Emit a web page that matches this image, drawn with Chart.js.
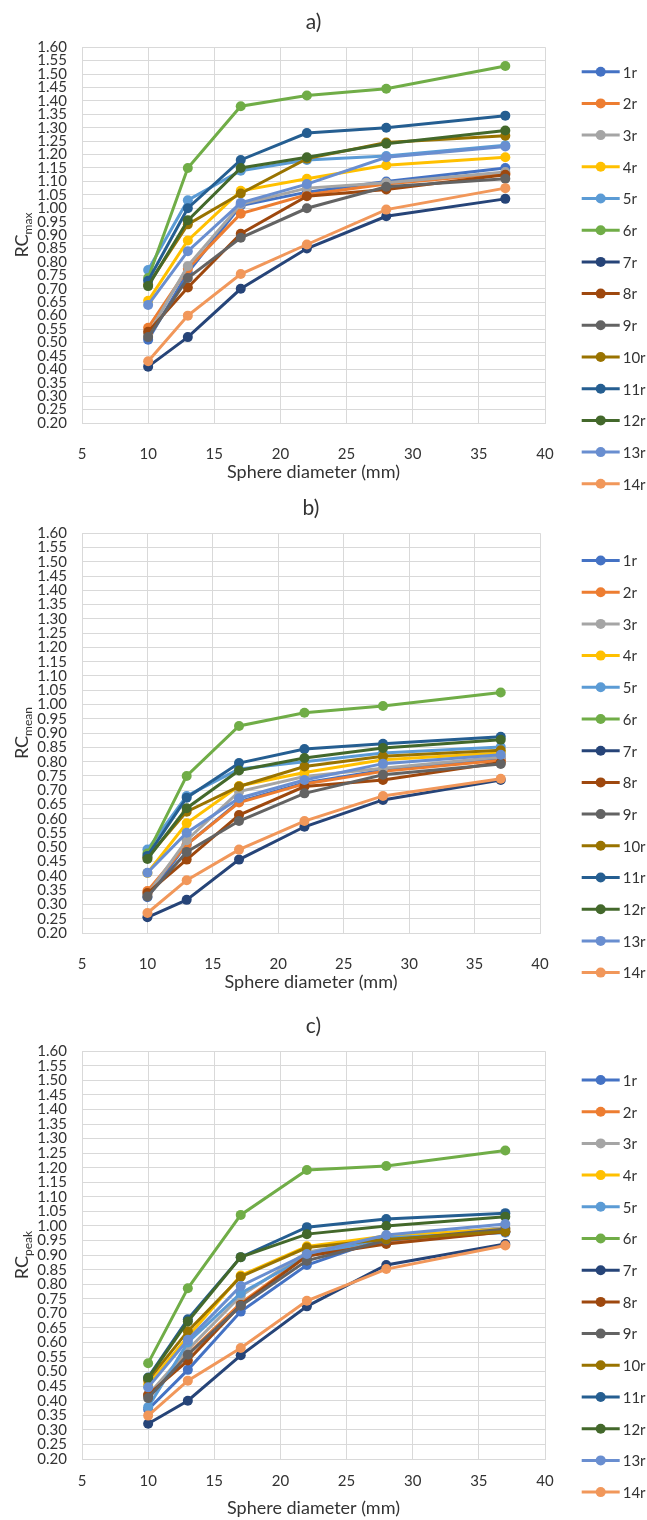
<!DOCTYPE html>
<html>
<head>
<meta charset="utf-8">
<script src="https://cdn.jsdelivr.net/npm/chart.js@4.4.1/dist/chart.umd.min.js"></script>
<style>
  html, body { margin: 0; padding: 0; background: #fff; }
  #wrap { position: relative; width: 647px; height: 1520px; }
  canvas { position: absolute; left: 0; }
</style>
</head>
<body>
<div id="wrap">
  <canvas id="rcMax" width="647" height="500" style="top:0"></canvas>
  <canvas id="rcMean" width="647" height="515" style="top:485px"></canvas>
  <canvas id="rcPeak" width="647" height="520" style="top:1000px"></canvas>
</div>
<script>
// ── DATA ──
const DIAMETERS = [10, 13, 17, 22, 28, 37];
const SERIES = ['1r', '2r', '3r', '4r', '5r', '6r', '7r', '8r', '9r', '10r', '11r', '12r', '13r', '14r'];
const Y_TICK_MIN = 0.20, Y_TICK_MAX = 1.60, Y_TICK_STEP = 0.05;
const X_TICK_MIN = 5, X_TICK_MAX = 40, X_TICK_STEP = 5;

// a) RCmax, one row per series (1r..14r), one value per sphere diameter
const RC_MAX = [
  [0.51, 0.76, 1.01, 1.06, 1.10, 1.15],
  [0.555, 0.775, 0.98, 1.05, 1.09, 1.13],
  [0.53, 0.785, 1.015, 1.075, 1.095, 1.135],
  [0.655, 0.88, 1.065, 1.11, 1.16, 1.19],
  [0.77, 1.03, 1.14, 1.18, 1.195, 1.235],
  [0.74, 1.15, 1.38, 1.42, 1.445, 1.53],
  [0.41, 0.52, 0.70, 0.85, 0.97, 1.035],
  [0.54, 0.705, 0.905, 1.045, 1.07, 1.125],
  [0.52, 0.74, 0.89, 1.00, 1.08, 1.11],
  [0.715, 0.94, 1.055, 1.185, 1.245, 1.27],
  [0.73, 1.00, 1.18, 1.28, 1.30, 1.345],
  [0.71, 0.955, 1.15, 1.19, 1.24, 1.29],
  [0.64, 0.84, 1.02, 1.09, 1.19, 1.23],
  [0.43, 0.60, 0.755, 0.865, 0.995, 1.075]
];

// b) RCmean
const RC_MEAN = [
  [0.325, 0.51, 0.66, 0.725, 0.77, 0.81],
  [0.347, 0.51, 0.657, 0.722, 0.766, 0.805],
  [0.335, 0.525, 0.695, 0.748, 0.777, 0.816],
  [0.41, 0.584, 0.715, 0.762, 0.807, 0.83],
  [0.492, 0.68, 0.774, 0.80, 0.83, 0.851],
  [0.478, 0.75, 0.925, 0.971, 0.995, 1.042],
  [0.255, 0.316, 0.457, 0.572, 0.666, 0.736],
  [0.34, 0.457, 0.613, 0.713, 0.736, 0.797],
  [0.328, 0.484, 0.592, 0.689, 0.754, 0.792],
  [0.464, 0.625, 0.713, 0.783, 0.819, 0.84],
  [0.47, 0.674, 0.795, 0.844, 0.863, 0.887],
  [0.459, 0.637, 0.769, 0.813, 0.848, 0.877],
  [0.411, 0.551, 0.672, 0.736, 0.793, 0.824],
  [0.27, 0.385, 0.492, 0.592, 0.68, 0.74]
];

// c) RCpeak
const RC_PEAK = [
  [0.37, 0.506, 0.706, 0.866, 0.96, 0.98],
  [0.42, 0.56, 0.735, 0.90, 0.943, 0.98],
  [0.42, 0.575, 0.76, 0.91, 0.96, 0.995],
  [0.455, 0.62, 0.83, 0.93, 0.966, 0.99],
  [0.378, 0.60, 0.769, 0.895, 0.96, 0.977],
  [0.529, 0.786, 1.038, 1.192, 1.206, 1.259],
  [0.321, 0.40, 0.556, 0.724, 0.866, 0.938],
  [0.42, 0.538, 0.729, 0.897, 0.938, 0.98],
  [0.409, 0.558, 0.726, 0.881, 0.95, 0.99],
  [0.47, 0.639, 0.826, 0.926, 0.954, 0.981],
  [0.48, 0.68, 0.893, 0.996, 1.024, 1.044],
  [0.478, 0.672, 0.893, 0.972, 1.00, 1.032],
  [0.446, 0.609, 0.794, 0.904, 0.969, 1.007],
  [0.349, 0.469, 0.581, 0.743, 0.852, 0.933]
];

// ── STYLE ──
const COLORS = ['#4472C4', '#ED7D31', '#A5A5A5', '#FFC000', '#5B9BD5', '#70AD47', '#264478',
                '#9E480E', '#636363', '#997300', '#255E91', '#43682B', '#698ED0', '#F1975A'];
const TEXT = '#333333';
const GRID = '#d9d9d9';
const FONT = 'Lato';

// legend drawn at the right, line + marker like the spreadsheet legend
const sideLegend = {
  id: 'sideLegend',
  afterDraw(chart, args, opts) {
    const ctx = chart.ctx;
    ctx.save();
    chart.data.datasets.forEach((ds, i) => {
      const y = opts.top + i * opts.step;
      ctx.strokeStyle = ds.borderColor;
      ctx.lineWidth = 3;
      ctx.beginPath();
      ctx.moveTo(opts.left, y);
      ctx.lineTo(opts.left + 38, y);
      ctx.stroke();
      ctx.fillStyle = ds.borderColor;
      ctx.beginPath();
      ctx.arc(opts.left + 19, y, 5, 0, Math.PI * 2);
      ctx.fill();
      ctx.fillStyle = TEXT;
      ctx.font = `15px ${FONT}`;
      ctx.textBaseline = 'middle';
      ctx.textAlign = 'left';
      ctx.fillText(ds.label, opts.left + 41, y + 1);
    });
    ctx.restore();
  }
};

// y axis title with subscript (RCmax / RCmean / RCpeak)
const subTitle = {
  id: 'subTitle',
  afterDraw(chart, args, opts) {
    const { ctx, chartArea } = chart;
    ctx.save();
    ctx.translate(opts.x, (chartArea.top + chartArea.bottom) / 2);
    ctx.rotate(-Math.PI / 2);
    ctx.fillStyle = TEXT;
    ctx.font = `18px ${FONT}`;
    const w1 = ctx.measureText('RC').width;
    ctx.font = `12px ${FONT}`;
    const w2 = ctx.measureText(opts.sub).width;
    const x0 = -(w1 + w2) / 2;
    ctx.textAlign = 'left';
    ctx.textBaseline = 'alphabetic';
    ctx.font = `18px ${FONT}`;
    ctx.fillText('RC', x0, 6);
    ctx.font = `12px ${FONT}`;
    ctx.fillText(opts.sub, x0 + w1, 10);
    ctx.restore();
  }
};

function drawPanel(canvasId, title, sub, values, lay) {
  const datasets = SERIES.map((name, i) => ({
    label: name,
    data: DIAMETERS.map((d, j) => ({ x: d, y: values[i][j] })),
    borderColor: COLORS[i],
    backgroundColor: COLORS[i],
    pointBackgroundColor: COLORS[i],
    pointBorderColor: COLORS[i],
    borderWidth: 3,
    pointRadius: 5,
    pointBorderWidth: 0,
    tension: 0,
    order: SERIES.length - i
  }));

  new Chart(document.getElementById(canvasId), {
    type: 'line',
    data: { datasets },
    plugins: [sideLegend, subTitle],
    options: {
      responsive: false,
      animation: false,
      layout: { padding: { left: 0, right: lay.right, top: 0, bottom: 0 } },
      plugins: {
        legend: { display: false },
        tooltip: { enabled: false },
        title: {
          display: true, text: title, fullSize: false, color: TEXT,
          font: { family: FONT, size: 21, weight: 'normal', lineHeight: 1.2 },
          padding: { top: lay.titleTop, bottom: lay.titleBottom }
        },
        sideLegend: { left: 581.7, top: lay.legendTop, step: 31.7 },
        subTitle: { x: 22, sub }
      },
      scales: {
        x: {
          type: 'linear', min: X_TICK_MIN, max: X_TICK_MAX,
          ticks: { stepSize: X_TICK_STEP, color: TEXT, padding: lay.xTickPad, font: { family: FONT, size: 15, lineHeight: 1.2 } },
          grid: { color: GRID, drawTicks: false },
          border: { color: GRID },
          title: {
            display: true, text: 'Sphere diameter (mm)', color: TEXT,
            font: { family: FONT, size: 18, lineHeight: 1.2 },
            padding: { top: 0, bottom: lay.xTitleBottom }
          },
          afterFit: s => { s.height = lay.xHeight; }
        },
        y: {
          min: Y_TICK_MIN, max: Y_TICK_MAX,
          ticks: {
            stepSize: Y_TICK_STEP, autoSkip: false, color: TEXT, padding: 15,
            font: { family: FONT, size: 15, lineHeight: 1 },
            callback: v => v.toFixed(2)
          },
          grid: { color: GRID, drawTicks: false },
          border: { color: GRID },
          afterFit: s => { s.width = 82; }
        }
      }
    }
  });
}

// top canvas is a bit taller than its slot so its legend is not cut; lower canvases overlap it
drawPanel('rcMax', 'a)', 'max', RC_MAX,
  { right: 102, titleTop: 10, titleBottom: 12, xHeight: 77, xTickPad: 22, xTitleBottom: 17, legendTop: 71.7 });
drawPanel('rcMean', 'b)', 'mean', RC_MEAN,
  { right: 107, titleTop: 11, titleBottom: 12, xHeight: 67, xTickPad: 22, xTitleBottom: 7, legendTop: 75.5 });
drawPanel('rcPeak', 'c)', 'peak', RC_PEAK,
  { right: 102, titleTop: 14, titleBottom: 12, xHeight: 61, xTickPad: 13, xTitleBottom: 1, legendTop: 80 });
</script>
</body>
</html>
